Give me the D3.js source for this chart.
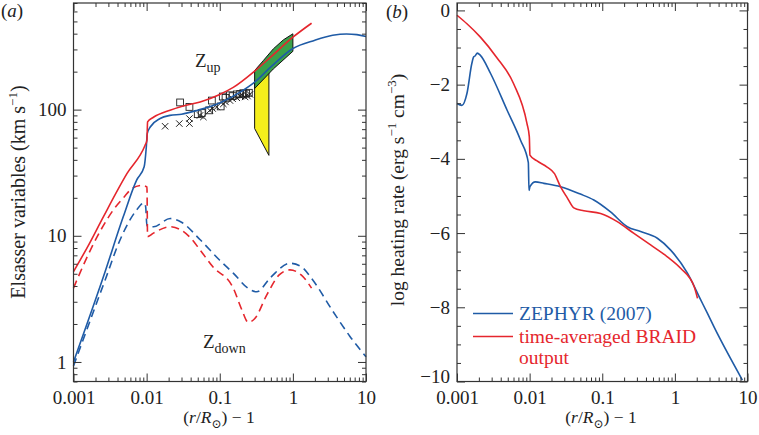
<!DOCTYPE html>
<html>
<head>
<meta charset="utf-8">
<script src="https://cdn.jsdelivr.net/npm/d3@7"></script>
<style>
  body { margin: 0; background: #fff; }
  svg text { font-family: "Liberation Serif", "DejaVu Serif", serif; }
</style>
</head>
<body>
<div id="chartDiv"></div>
<script>
// ---- data ----
// panel (a): Elsasser variables, [x, km/s]
var zupBraid = [[0.001,5.2],[0.0016,8.4],[0.00257,14.2],[0.0054,31.2],[0.0095,52],[0.0101,57],[0.0103,80],
  [0.0124,87],[0.0209,99],[0.03,106],[0.054,115],[0.1,132],[0.153,150],[0.3,202],[0.5,262],[1,375],[1.8,484]];
var zupZephyr = [[0.001,1.0],[0.00257,4.75],[0.0048,14.2],[0.0073,27.6],[0.00925,35.2],[0.0099,50.6],
  [0.0102,64.6],[0.0112,72.8],[0.0153,85],[0.0209,90],[0.03,92],[0.05,99],[0.1,113],[0.2,140],[0.3,165],
  [0.5,218],[1,305],[2,355],[3.5,388],[5.4,398],[7.5,393],[10,380]];
var zdownBraid = [[0.001,3.85],[0.0015,6.6],[0.0023,10.8],[0.0035,16],[0.005,20.5],[0.0063,23.7],[0.0086,25.1],
  [0.0101,24.4],[0.0103,9.85],[0.0124,10.5],[0.0209,11.8],[0.028,11.3],[0.04,9.6],[0.054,7.7],[0.08,5.7],
  [0.153,3.85],[0.2,2.6],[0.246,2.06],[0.3,2.2],[0.44,3.4],[0.65,4.9],[0.91,5.37],[1.3,4.9],[1.8,3.85]];
var zdownZephyr = [[0.001,0.93],[0.00271,4.47],[0.00434,9.3],[0.007,15.5],[0.00925,18.2],[0.0097,17],
  [0.0101,12],[0.0124,11.8],[0.021,13.7],[0.03,12.8],[0.054,9.3],[0.1,6.4],[0.153,5.06],[0.25,3.8],[0.32,3.6],
  [0.5,4.7],[0.91,6.06],[1.3,5.7],[1.8,4.6],[3.56,2.5],[6,1.6],[10,1.1]];
var obsSquares = [[0.0287,114],[0.0385,105],[0.05,92],[0.0567,94],[0.0715,98.7],[0.078,118],[0.103,106],
  [0.11,127],[0.12,124],[0.138,130],[0.15,128],[0.171,132],[0.19,133],[0.21,135],[0.23,134],[0.25,136]];
var obsCrosses = [[0.0179,73.8],[0.028,77.5],[0.0385,77.5],[0.0385,85],[0.0538,90],[0.0597,87.4],[0.073,98.7],
  [0.08,102],[0.091,105],[0.112,111],[0.12,115],[0.138,118],[0.15,122],[0.171,124],[0.19,128],[0.2,131],
  [0.222,126],[0.24,128],[0.259,132]];
var greenBand = [[0.3,204],[0.395,245],[0.54,303],[0.74,357],[1.0,399],[1.0,290],[0.54,210],[0.3,147]];
var yellowBand = [[0.3,170],[0.47,195],[0.47,43.4],[0.3,70.8]];

// panel (b): log heating rate, [x, log]
var heatZephyr = [[0.001,-2.51],[0.00117,-2.56],[0.00137,-2.24],[0.0016,-1.43],[0.0017,-1.25],[0.00179,-1.22],
  [0.0019,-1.15],[0.0021,-1.21],[0.0029,-1.70],[0.0049,-2.69],[0.0075,-3.5],[0.0096,-4.1],[0.0098,-4.85],
  [0.0101,-4.75],[0.012,-4.62],[0.0157,-4.66],[0.0266,-4.75],[0.05,-4.95],[0.0766,-5.11],[0.13,-5.43],
  [0.221,-5.83],[0.337,-5.96],[0.574,-6.14],[0.875,-6.46],[1.49,-7.08],[2.27,-7.8],[2.8,-8.16],[3.5,-8.55],[8.5,-9.96]];
var heatBraid = [[0.001,-0.13],[0.00137,-0.36],[0.0021,-0.72],[0.0035,-1.26],[0.006,-1.97],[0.0092,-3.05],
  [0.0099,-3.4],[0.0101,-3.9],[0.0125,-4.05],[0.0174,-4.22],[0.022,-4.4],[0.0266,-4.75],[0.033,-5.05],
  [0.0406,-5.32],[0.0557,-5.40],[0.0948,-5.47],[0.161,-5.69],[0.273,-6.01],[0.463,-6.32],[0.788,-6.64],
  [1.2,-6.95],[1.84,-7.44],[2.05,-7.76]];

var xMajor = [0.001, 0.01, 0.1, 1, 10];
var yMajorA = [1, 10, 100];
var yMajorB = [0, -2, -4, -6, -8, -10];
var legendLabels = ["ZEPHYR (2007)", "time-averaged BRAID", "output"];

// ---- layout ----
var blue = "#1f5ba6", red = "#e5262d", ink = "#333";
var svg = d3.select("#chartDiv").append("svg").attr("width", 759).attr("height", 435);

function logMinor(lo, hi) {
  var out = [];
  for (var e = -4; e <= 3; e++) for (var k = 2; k <= 9; k++) {
    var v = k * Math.pow(10, e);
    if (v >= lo * 0.999 && v <= hi * 1.001) out.push(v);
  }
  return out;
}

function frameAxes(x, y, yMajor, yMinor, yFmt) {
  var r = x.range(), b = y.range();
  var xMinor = logMinor(x.domain()[0], x.domain()[1]);
  var bottom = svg.append("g").attr("class", "ax").attr("transform", "translate(0," + b[0] + ")");
  bottom.call(d3.axisBottom(x).tickValues(xMajor).tickSize(-8).tickPadding(9).tickFormat(function(d){ return String(d); }));
  bottom.append("g").call(d3.axisBottom(x).tickValues(xMinor).tickSize(-4).tickFormat(""));
  var top = svg.append("g").attr("transform", "translate(0," + b[1] + ")");
  top.call(d3.axisTop(x).tickValues(xMajor).tickSize(-8).tickFormat(""));
  top.append("g").call(d3.axisTop(x).tickValues(xMinor).tickSize(-4).tickFormat(""));
  var left = svg.append("g").attr("transform", "translate(" + r[0] + ",0)");
  left.call(d3.axisLeft(y).tickValues(yMajor).tickSize(-8).tickPadding(7).tickFormat(yFmt));
  left.append("g").call(d3.axisLeft(y).tickValues(yMinor).tickSize(-4).tickFormat(""));
  // lowest label sits a little above its tick, clear of the x labels
  left.selectAll(".tick text").filter(function(d){ return d === y.domain()[0]; }).attr("dy", "0.05em");
  var right = svg.append("g").attr("transform", "translate(" + r[1] + ",0)");
  right.call(d3.axisRight(y).tickValues(yMajor).tickSize(-8).tickFormat(""));
  right.append("g").call(d3.axisRight(y).tickValues(yMinor).tickSize(-4).tickFormat(""));
  svg.selectAll(".domain").remove();
  svg.selectAll(".tick line").attr("stroke", ink);
  svg.selectAll(".tick text").attr("font-size", 19).attr("fill", "#222")
    .style("font-family", "'Liberation Serif', serif");
  svg.append("rect").attr("x", r[0]).attr("y", b[1]).attr("width", r[1] - r[0]).attr("height", b[0] - b[1])
    .attr("fill", "none").attr("stroke", ink).attr("stroke-width", 1.2);
}

function xLabel(cx) {
  var t = svg.append("text").attr("x", cx).attr("y", 423).attr("text-anchor", "middle").attr("font-size", 17.5).attr("fill", "#222");
  t.append("tspan").text("(");
  t.append("tspan").attr("font-style", "italic").text("r");
  t.append("tspan").text("/");
  t.append("tspan").attr("font-style", "italic").text("R");
  t.append("tspan").attr("font-size", 12).attr("dy", 5).text("\u2299");
  t.append("tspan").attr("dy", -5).text(") \u2212 1");
}

// ---- panel (a) ----
var xa = d3.scaleLog().domain([0.001, 10]).range([73.5, 366]);
var ya = d3.scaleLog().domain([0.7, 700]).range([381.5, 3]);
var lineA = d3.line().x(function(d){ return xa(d[0]); }).y(function(d){ return ya(d[1]); });

svg.append("path").datum(yellowBand).attr("d", lineA.curve(d3.curveLinearClosed))
  .attr("fill", "#f5ee1c").attr("stroke", "#111").attr("stroke-width", 1);
svg.append("path").datum(greenBand).attr("d", lineA.curve(d3.curveLinearClosed))
  .attr("fill", "#3aa14a").attr("stroke", "#111").attr("stroke-width", 1);
lineA.curve(d3.curveMonotoneX);

svg.append("g").selectAll("rect").data(obsSquares).enter().append("rect")
  .attr("x", function(d){ return xa(d[0]) - 3.4; }).attr("y", function(d){ return ya(d[1]) - 3.4; })
  .attr("width", 6.8).attr("height", 6.8).attr("fill", "none").attr("stroke", "#222").attr("stroke-width", 0.9);
svg.append("g").selectAll("path").data(obsCrosses).enter().append("path")
  .attr("d", function(d){ var x = xa(d[0]), y = ya(d[1]), s = 3.2;
    return "M" + (x - s) + "," + (y - s) + "L" + (x + s) + "," + (y + s) + "M" + (x - s) + "," + (y + s) + "L" + (x + s) + "," + (y - s); })
  .attr("stroke", "#222").attr("stroke-width", 1);

[[zdownZephyr, blue, "8,5"], [zdownBraid, red, "8,5"], [zupZephyr, blue, null], [zupBraid, red, null]].forEach(function(s) {
  svg.append("path").datum(s[0]).attr("d", lineA).attr("fill", "none").attr("stroke", s[1])
    .attr("stroke-width", 1.6).attr("stroke-dasharray", s[2]);
});

frameAxes(xa, ya, yMajorA, logMinor(0.7, 700), function(d){ return String(d); });

svg.append("text").attr("x", 1).attr("y", 17).attr("font-size", 19).attr("fill", "#222")
  .html("(<tspan font-style='italic'>a</tspan>)");
var zu = svg.append("text").attr("x", 195).attr("y", 67).attr("font-size", 19).attr("fill", "#222").text("Z");
zu.append("tspan").attr("font-size", 14).attr("dy", 5).text("up");
var zd = svg.append("text").attr("x", 203).attr("y", 348).attr("font-size", 19).attr("fill", "#222").text("Z");
zd.append("tspan").attr("font-size", 14).attr("dy", 5).text("down");
var yla = svg.append("text").attr("transform", "translate(25,192) rotate(-90)").attr("text-anchor", "middle")
  .attr("font-size", 20).attr("fill", "#222").text("Elsasser variables (km s");
yla.append("tspan").attr("font-size", 13).attr("dy", -8).text("\u22121");
yla.append("tspan").attr("dy", 8).text(")");
xLabel(219);

// ---- panel (b) ----
var xb = d3.scaleLog().domain([0.001, 10]).range([457, 747.5]);
var yb = d3.scaleLinear().domain([-10, 0.2]).range([381.5, 3]);
var lineB = d3.line().curve(d3.curveMonotoneX).x(function(d){ return xb(d[0]); }).y(function(d){ return yb(d[1]); });

svg.append("path").datum(heatZephyr).attr("d", lineB).attr("fill", "none").attr("stroke", blue).attr("stroke-width", 1.6);
svg.append("path").datum(heatBraid).attr("d", lineB).attr("fill", "none").attr("stroke", red).attr("stroke-width", 1.6);

frameAxes(xb, yb, yMajorB, d3.range(-9.5, 0.1, 0.5).filter(function(v){ return v % 2 !== 0; }),
  function(d){ return d < 0 ? "\u2212" + Math.abs(d) : String(d); });

svg.append("text").attr("x", 386).attr("y", 18).attr("font-size", 19).attr("fill", "#222")
  .html("(<tspan font-style='italic'>b</tspan>)");
var ylb = svg.append("text").attr("transform", "translate(404,190) rotate(-90)").attr("text-anchor", "middle")
  .attr("font-size", 19.5).attr("fill", "#222").text("log heating rate (erg s");
ylb.append("tspan").attr("font-size", 13).attr("dy", -8).text("\u22121");
ylb.append("tspan").attr("dy", 8).text(" cm");
ylb.append("tspan").attr("font-size", 13).attr("dy", -8).text("\u22123");
ylb.append("tspan").attr("dy", 8).text(")");
xLabel(601);

// legend
var leg = svg.append("g");
leg.append("line").attr("x1", 473).attr("x2", 513).attr("y1", 313.5).attr("y2", 313.5).attr("stroke", blue).attr("stroke-width", 1.6);
leg.append("line").attr("x1", 473).attr("x2", 513).attr("y1", 336.5).attr("y2", 336.5).attr("stroke", red).attr("stroke-width", 1.6);
leg.append("text").attr("x", 519).attr("y", 320).attr("font-size", 19.5).attr("fill", blue).text(legendLabels[0]);
leg.append("text").attr("x", 519).attr("y", 343).attr("font-size", 19.5).attr("fill", red).text(legendLabels[1]);
leg.append("text").attr("x", 519).attr("y", 364).attr("font-size", 19.5).attr("fill", red).text(legendLabels[2]);
</script>
</body>
</html>
